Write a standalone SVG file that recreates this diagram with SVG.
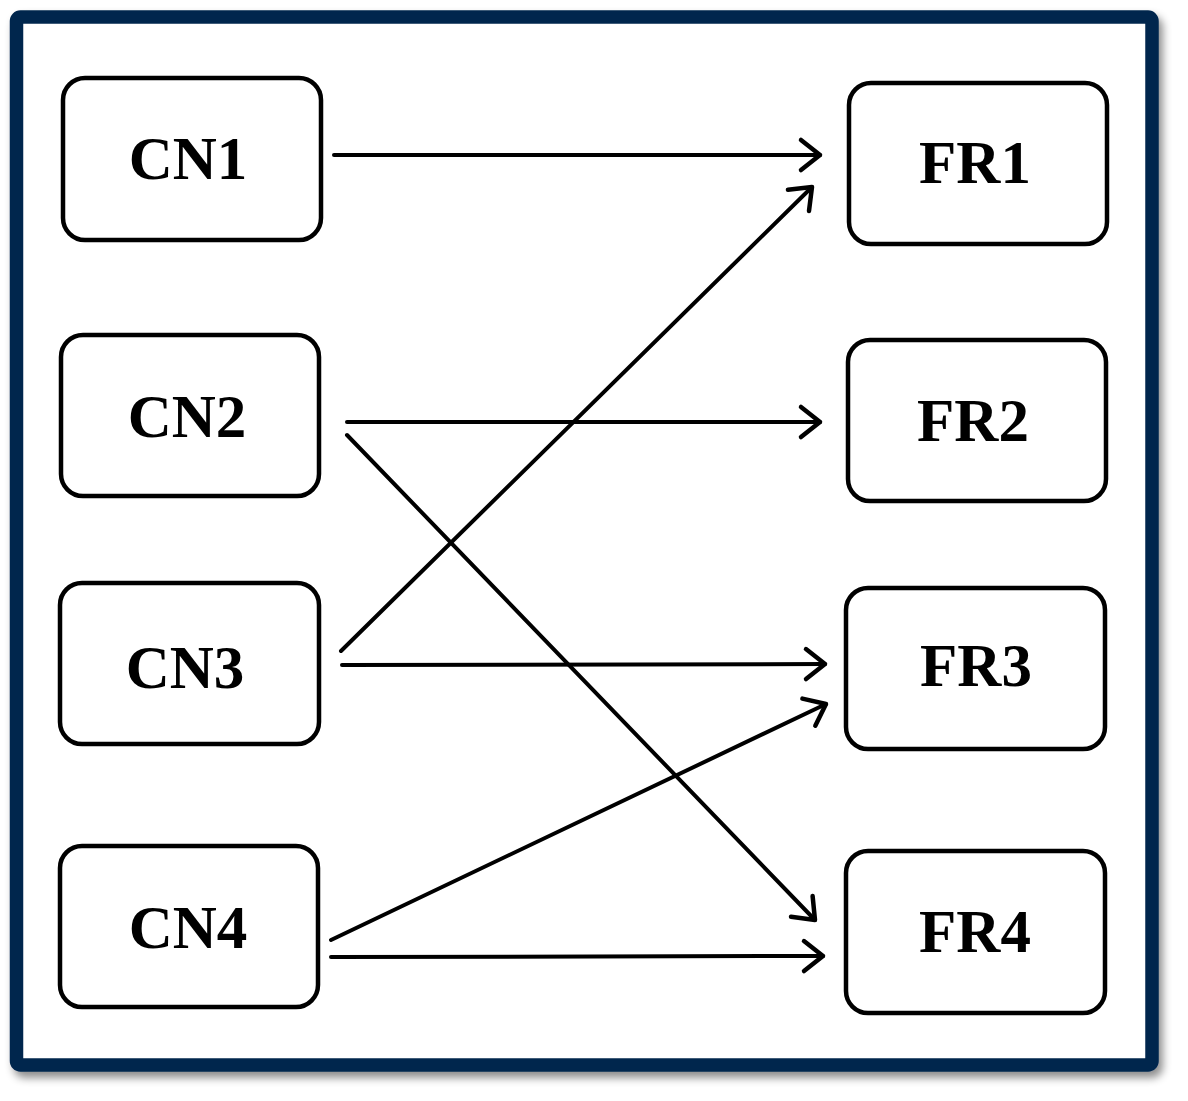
<svg xmlns="http://www.w3.org/2000/svg" width="1188" height="1101" viewBox="0 0 1188 1101">
<style>
.box{fill:#fff;stroke:#000;stroke-width:4.5}
.lbl{font-family:"Liberation Serif","Times New Roman",serif;font-weight:bold;font-size:61px;fill:#000;text-anchor:middle}
.con{stroke:#000;stroke-width:4;fill:none;stroke-linecap:round}
</style>
<defs>
<filter id="sh" x="-5%" y="-5%" width="112%" height="112%">
<feDropShadow dx="4" dy="6" stdDeviation="4" flood-color="#000" flood-opacity="0.45"/>
</filter>
<marker id="ah" markerUnits="userSpaceOnUse" markerWidth="50" markerHeight="50" viewBox="-25 -25 50 50" refX="0" refY="0" orient="auto" overflow="visible">
<path d="M-19,-15 L0,0 L-19,15" fill="none" stroke="#000" stroke-width="4.5" stroke-linecap="round" stroke-linejoin="round"/>
</marker>
</defs>
<rect width="1188" height="1101" fill="#fff"/>
<g id="frame">
<rect x="16.5" y="17" width="1135.5" height="1048" rx="4" fill="#fff" stroke="#00264d" stroke-width="13.5" filter="url(#sh)"/>
</g>
<g id="connectors">
<line class="con" x1="334" y1="155" x2="820" y2="155" marker-end="url(#ah)"/>
<line class="con" x1="347" y1="422" x2="820" y2="422" marker-end="url(#ah)"/>
<line class="con" x1="347" y1="435" x2="815" y2="920" marker-end="url(#ah)"/>
<line class="con" x1="341" y1="651" x2="812" y2="187" marker-end="url(#ah)"/>
<line class="con" x1="342" y1="665" x2="825" y2="664" marker-end="url(#ah)"/>
<line class="con" x1="331" y1="940" x2="826" y2="704" marker-end="url(#ah)"/>
<line class="con" x1="331" y1="957" x2="823" y2="956" marker-end="url(#ah)"/>
</g>
<g id="CN1"><rect class="box" x="63" y="78" width="258" height="162" rx="22"/><text class="lbl" x="188" y="179">CN1</text></g>
<g id="CN2"><rect class="box" x="61" y="335" width="258" height="161" rx="22"/><text class="lbl" x="187" y="437">CN2</text></g>
<g id="CN3"><rect class="box" x="60" y="583" width="259" height="161" rx="22"/><text class="lbl" x="185" y="688">CN3</text></g>
<g id="CN4"><rect class="box" x="60" y="846" width="258" height="161" rx="22"/><text class="lbl" x="188" y="948">CN4</text></g>
<g id="FR1"><rect class="box" x="849" y="83" width="258" height="161" rx="22"/><text class="lbl" x="975" y="183">FR1</text></g>
<g id="FR2"><rect class="box" x="848" y="340" width="258" height="161" rx="22"/><text class="lbl" x="973" y="441">FR2</text></g>
<g id="FR3"><rect class="box" x="846" y="588" width="259" height="161" rx="22"/><text class="lbl" x="976" y="686">FR3</text></g>
<g id="FR4"><rect class="box" x="846" y="851" width="259" height="162" rx="22"/><text class="lbl" x="975" y="952">FR4</text></g>
</svg>
